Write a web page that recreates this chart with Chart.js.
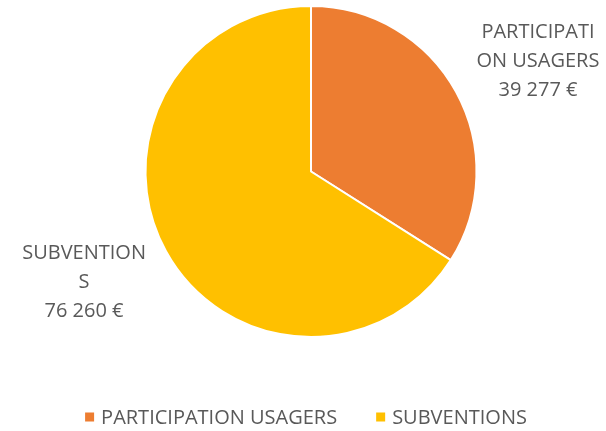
<!DOCTYPE html>
<html>
<head>
<meta charset="utf-8">
<script src="https://cdn.jsdelivr.net/npm/chart.js@4.4.0/dist/chart.umd.min.js"></script>
<style>
  html, body { margin: 0; padding: 0; background: #fff; }
  #wrap { width: 606px; height: 431px; }
</style>
</head>
<body>
<div id="wrap"><canvas id="pieChart" width="606" height="431"></canvas></div>
<script>
const categories = ['PARTICIPATION USAGERS', 'SUBVENTIONS'];
const amounts = [39277, 76260];
const labelLines = [['PARTICIPATI', 'ON USAGERS'], ['SUBVENTION', 'S']];
const colors = ['#ED7D31', '#FFC000'];

function formatEuro(v) {
    return String(v).replace(/\B(?=(\d{3})+(?!\d))/g, ' ') + ' €';
}

const FONT = "'Open Sans', sans-serif";
const TEXT_COLOR = '#595959';

// draws the category + amount next to each slice
const sliceLabels = {
    id: 'sliceLabels',
    afterDatasetsDraw(chart) {
        const ctx = chart.ctx;
        const meta = chart.getDatasetMeta(0);
        ctx.save();
        ctx.fillStyle = TEXT_COLOR;
        ctx.font = '20px ' + FONT;
        ctx.textAlign = 'center';
        ctx.textBaseline = 'middle';
        meta.data.forEach((arc, i) => {
            const mid = (arc.startAngle + arc.endAngle) / 2;
            const r = arc.outerRadius;
            const x = arc.x + Math.cos(mid) * r * 1.565;
            const y = arc.y + Math.sin(mid) * r * 1.386;
            const lines = labelLines[i].concat([formatEuro(amounts[i])]);
            const lh = 29;
            lines.forEach((t, j) => {
                ctx.fillText(t, x, y + (j - (lines.length - 1) / 2) * lh);
            });
        });
        ctx.restore();
    }
};

// legend row under the pie
const bottomLegend = {
    id: 'bottomLegend',
    afterDraw(chart) {
        const ctx = chart.ctx;
        const labels = chart.data.labels;
        const bg = chart.data.datasets[0].backgroundColor;
        const box = 9, gap = 7, spacing = 39;
        ctx.save();
        ctx.font = '20px ' + FONT;
        ctx.textBaseline = 'middle';
        ctx.textAlign = 'left';
        const widths = labels.map(l => ctx.measureText(l).width);
        let total = widths.reduce((a, w) => a + box + gap + w, 0) + spacing * (labels.length - 1);
        let x = 306 - total / 2;
        const y = 417;
        labels.forEach((l, i) => {
            ctx.fillStyle = bg[i];
            ctx.fillRect(x, y - box / 2, box, box);
            ctx.fillStyle = TEXT_COLOR;
            ctx.fillText(l, x + box + gap, y + 1);
            x += box + gap + widths[i] + spacing;
        });
        ctx.restore();
    }
};

const ctx = document.getElementById('pieChart').getContext('2d');
const chart = new Chart(ctx, {
    type: 'pie',
    data: {
        labels: categories,
        datasets: [{
            data: amounts,
            backgroundColor: colors,
            borderColor: '#ffffff',
            borderWidth: 2
        }]
    },
    options: {
        responsive: false,
        animation: false,
        layout: {
            padding: { top: 5, bottom: 93, left: 16, right: 0 }
        },
        plugins: {
            legend: { display: false },
            tooltip: { enabled: false }
        }
    },
    plugins: [sliceLabels, bottomLegend]
});
</script>
</body>
</html>
